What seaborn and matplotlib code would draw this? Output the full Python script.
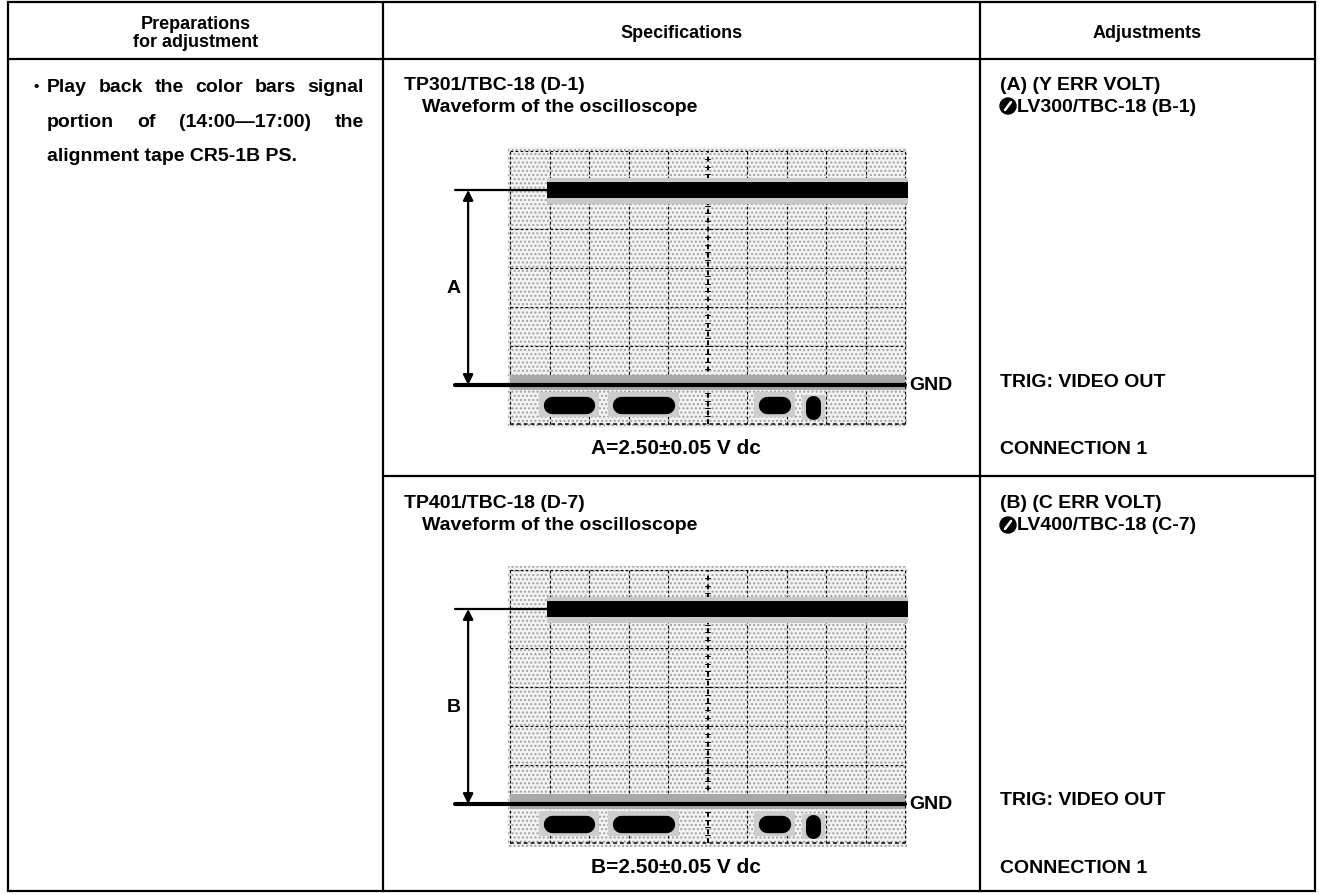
import numpy as np
import pandas as pd
import matplotlib
matplotlib.use("Agg")
import matplotlib.pyplot as plt
import seaborn as sns
from matplotlib.patches import Rectangle, Circle

# ---------------- data ----------------
header_labels = ["Specifications", "Adjustments"]
prep_header = ["Preparations", "for adjustment"]
prep_line1 = ["Play", "back", "the", "color", "bars", "signal"]
prep_line2 = ["portion", "of", "(14:00\u201417:00)", "the"]
prep_line3 = "alignment tape CR5-1B PS."

scope_titles = ["TP301/TBC-18 (D-1)", "TP401/TBC-18 (D-7)"]
scope_subtitle = "Waveform of the oscilloscope"
dim_labels = ["A", "B"]
spec_texts = ["A=2.50\u00b10.05 V dc", "B=2.50\u00b10.05 V dc"]
adj_titles = ["(A) (Y ERR VOLT)", "(B) (C ERR VOLT)"]
adj_controls = ["LV300/TBC-18 (B-1)", "LV400/TBC-18 (C-7)"]
trig_text = "TRIG: VIDEO OUT"
conn_text = "CONNECTION 1"
gnd_text = "GND"

# waveform values in graticule divisions (0.5 V/div)
level_div = 6.0          # top trace level
gnd_div = 1.0            # ground level
trace_start = 0.94
trace_end = 10.08
ref_start = -1.40        # reference lines start (left of graticule)
pulse_starts = [0.84, 2.58, 6.28, 7.49]
pulse_ends = [2.15, 4.18, 7.11, 7.87]
pulse_levels = [0.50, 0.50, 0.50, 0.42]
n_hdiv, n_vdiv = 10, 7

# ---------------- figure ----------------
sns.set_theme(style="white")
plt.rcParams['font.family'] = ['Liberation Sans', 'DejaVu Sans']
plt.rcParams['font.weight'] = 'bold'
plt.rcParams['text.color'] = 'black'

W, H = 1319, 895
fig = plt.figure(figsize=(W / 100, H / 100), dpi=100)
fig.patch.set_facecolor("white")
bg = fig.add_axes([0, 0, 1, 1])
bg.set_xlim(0, W)
bg.set_ylim(H, 0)
bg.axis("off")

FS = 14
HFS = 13
K = "black"
LW = 1.6

# table frame
L, R, T, B = 8, 1315, 3, 892
C1, C2 = 383, 980
HY, RY = 60, 477
bg.add_patch(Rectangle((L, T), R - L, B - T, fill=False, lw=LW, ec=K))
bg.plot([L, R], [HY, HY], color=K, lw=LW)
bg.plot([C1, C1], [T, B], color=K, lw=LW)
bg.plot([C2, C2], [T, B], color=K, lw=LW)
bg.plot([C1, R], [RY, RY], color=K, lw=LW)

# headers
bg.text((L + C1) / 2, 24, prep_header[0], ha="center", va="center", fontsize=HFS)
bg.text((L + C1) / 2, 42, prep_header[1], ha="center", va="center", fontsize=HFS)
bg.text((C1 + C2) / 2, 33, header_labels[0], ha="center", va="center", fontsize=HFS)
bg.text((C2 + R) / 2, 33, header_labels[1], ha="center", va="center", fontsize=HFS)

renderer = fig.canvas.get_renderer()


def justify(words, x0, x1, y):
    texts = [bg.text(0, y, w, fontsize=FS, ha="left", va="center") for w in words]
    widths = [t.get_window_extent(renderer).width for t in texts]
    gap = (x1 - x0 - sum(widths)) / (len(words) - 1)
    x = x0
    for t, w in zip(texts, widths):
        t.set_x(x)
        x += w + gap


bg.text(34, 87, "\u2022", fontsize=FS - 3, ha="left", va="center")
justify(prep_line1, 47, 364, 87)
justify(prep_line2, 47, 364, 122)
bg.text(47, 156, prep_line3, fontsize=FS, ha="left", va="center")

# graticule geometry (pixels)
GX0, GX1 = 510, 905
row_offsets = [0, 419]
GY0, GY1 = 152, 425  # top, bottom for first scope
div_px = (GX1 - GX0) / n_hdiv

for i, dy in enumerate(row_offsets):
    # specification texts
    bg.text(404, 85 + dy, scope_titles[i], fontsize=FS, ha="left", va="center")
    bg.text(422, 107 + dy, scope_subtitle, fontsize=FS, ha="left", va="center")
    bg.text(676, 449 + dy, spec_texts[i], fontsize=FS + 1, ha="center", va="center")
    # adjustment texts
    bg.text(1000, 85 + dy, adj_titles[i], fontsize=FS, ha="left", va="center")
    bg.add_patch(Circle((1008, 107 + dy), 8, color=K))
    bg.plot([1005, 1011], [111 + dy, 103 + dy], color="white", lw=1.8,
            solid_capstyle="round")
    bg.text(1017, 107 + dy, adj_controls[i], fontsize=FS, ha="left", va="center")
    bg.text(1000, 382 + dy, trig_text, fontsize=FS, ha="left", va="center")
    bg.text(1000, 450 + dy, conn_text, fontsize=FS, ha="left", va="center")

    # scope axes
    ax = fig.add_axes([GX0 / W, 1 - (GY1 + dy) / H,
                       (GX1 - GX0) / W, (GY1 - GY0) / H])
    ax.set_xlim(0, n_hdiv)
    ax.set_ylim(0, n_vdiv)
    ax.set_facecolor("none")
    for s in ax.spines.values():
        s.set_visible(False)
    ax.set_xticks([])
    ax.set_yticks([])
    ax.grid(False)

    # speckle texture of the screen
    ax.add_patch(Rectangle((-0.05, -0.1), n_hdiv + 0.1, n_vdiv + 0.2,
                           facecolor="#f3f3f3", edgecolor="#a0a0a0",
                           hatch="....", lw=0, clip_on=False, zorder=0))
    # graticule
    for gx in range(n_hdiv + 1):
        ax.plot([gx, gx], [0, n_vdiv], color=K, lw=1.4 if gx == 5 else 0.8,
                ls=(0, (2.5, 2)), zorder=1, clip_on=False)
    for gy in range(n_vdiv + 1):
        ax.plot([0, n_hdiv], [gy, gy], color=K, lw=1.1 if gy == 0 else 0.8,
                ls=(0, (2.5, 2)), zorder=1, clip_on=False)
    for ty in np.arange(0, n_vdiv, 0.2):
        ax.plot([4.94, 5.06], [ty, ty], color=K, lw=0.7, zorder=1)

    # fuzz around top trace
    ax.fill_between([trace_start, trace_end], level_div - 0.35, level_div + 0.3,
                    color="#c8c8c8", lw=0, zorder=3, clip_on=False)
    # top trace
    df_top = pd.DataFrame({"x": [trace_start, trace_end], "y": [level_div, level_div]})
    sns.lineplot(data=df_top, x="x", y="y", color=K, linewidth=11.5, ax=ax,
                 estimator=None, legend=False, zorder=4)
    ax.lines[-1].set_clip_on(False)
    ax.lines[-1].set_solid_capstyle("butt")

    # reference line and ground line
    df_ref = pd.DataFrame({"x": [ref_start, trace_start, ref_start, n_hdiv],
                           "y": [level_div, level_div, gnd_div, gnd_div],
                           "seg": [0, 0, 1, 1]})
    sns.lineplot(data=df_ref[df_ref.seg == 0], x="x", y="y", color=K,
                 linewidth=1.6, ax=ax, estimator=None, legend=False, zorder=4)
    ax.lines[-1].set_clip_on(False)
    ax.fill_between([0, n_hdiv], gnd_div - 0.12, gnd_div + 0.25,
                    color="#a8a8a8", lw=0, zorder=3)
    sns.lineplot(data=df_ref[df_ref.seg == 1], x="x", y="y", color=K,
                 linewidth=3.0, ax=ax, estimator=None, legend=False, zorder=4)
    ax.lines[-1].set_clip_on(False)

    # pulses below ground
    for ps, pe, pl in zip(pulse_starts, pulse_ends, pulse_levels):
        ax.fill_between([ps - 0.1, pe + 0.1], pl - 0.32, pl + 0.32,
                        color="#cdcdcd", lw=0, zorder=3)
        lw_p = 12.5
        half = lw_p / 72 * 100 / 2 / div_px
        if pe - ps > 2 * half:
            dfp = pd.DataFrame({"x": [ps + half, pe - half], "y": [pl, pl]})
            sns.lineplot(data=dfp, x="x", y="y", color=K, linewidth=lw_p, ax=ax,
                         estimator=None, legend=False, zorder=4)
            ax.lines[-1].set_solid_capstyle("round")
        else:
            # narrow blob: short vertical stroke
            xm = (ps + pe) / 2
            dfp = pd.DataFrame({"x": [xm, xm], "y": [pl - 0.12, pl + 0.12]})
            sns.lineplot(data=dfp, x="x", y="y", color=K,
                         linewidth=(pe - ps) * div_px * 72 / 100, ax=ax,
                         estimator=None, legend=False, zorder=4, sort=False)
            ax.lines[-1].set_solid_capstyle("round")

    # dimension arrow
    ax.annotate("", xy=(-1.06, level_div), xytext=(-1.06, gnd_div),
                arrowprops=dict(arrowstyle="<|-|>", color=K, lw=1.6,
                                mutation_scale=15, shrinkA=0, shrinkB=0),
                annotation_clip=False)
    ax.text(-1.42, (level_div + gnd_div) / 2, dim_labels[i], fontsize=FS,
            ha="center", va="center", clip_on=False)
    ax.text(n_hdiv + 0.12, gnd_div, gnd_text, fontsize=FS, ha="left",
            va="center", clip_on=False)
    ax.set_xlabel("")
    ax.set_ylabel("")

fig.savefig("out.png", dpi=100, facecolor="white")
